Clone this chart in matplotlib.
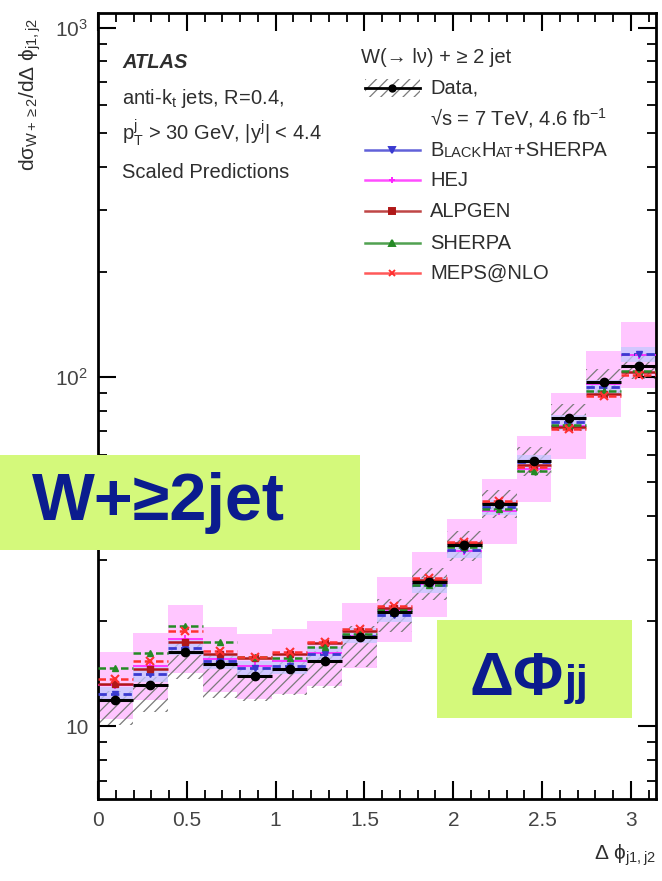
import numpy as np
import matplotlib
matplotlib.use('Agg')
import matplotlib.pyplot as plt
from matplotlib.patches import Rectangle
from matplotlib.ticker import MultipleLocator, FuncFormatter

plt.rcParams['font.family'] = ['Liberation Sans', 'DejaVu Sans']
plt.rcParams['mathtext.fontset'] = 'custom'
plt.rcParams['mathtext.rm'] = 'Liberation Sans'
plt.rcParams['mathtext.it'] = 'Liberation Sans:italic'
plt.rcParams['mathtext.bf'] = 'Liberation Sans:bold'
plt.rcParams['hatch.linewidth'] = 0.9

# delta phi between the two leading jets, 16 bins over [0, pi]
n_bins = 16
bin_edges = np.linspace(0, np.pi, n_bins + 1)

data_vals = [11.9, 13.1, 16.3, 15.05, 13.9, 14.6, 15.35, 18.0,
             21.2, 25.9, 33.0, 43.3, 57.4, 76.3, 96.8, 107.5]
data_unc_up = [0.06, 0.06, 0.06, 0.06, 0.06, 0.06, 0.07, 0.08,
               0.09, 0.10, 0.10, 0.10, 0.10, 0.10, 0.09, 0.09]
data_unc_dn = [0.15, 0.16, 0.16, 0.20, 0.15, 0.16, 0.16, 0.18,
               0.12, 0.11, 0.10, 0.09, 0.09, 0.08, 0.08, 0.08]

blackhat_vals = [12.35, 14.1, 16.8, 15.35, 14.65, 14.85, 16.1, 18.2,
                 20.9, 25.35, 31.9, 42.4, 57.1, 74.3, 93.6, 116.4]
blackhat_unc = [0.05, 0.05, 0.05, 0.05, 0.05, 0.05, 0.05, 0.05,
                0.05, 0.05, 0.05, 0.05, 0.05, 0.05, 0.05, 0.05]
hej_vals = [13.1, 14.85, 17.75, 15.55, 14.85, 15.35, 16.2, 18.2,
            21.6, 25.5, 31.7, 41.3, 54.5, 72.4, 95.5, 115.6]
hej_unc = [0.25, 0.25, 0.25, 0.24, 0.24, 0.24, 0.24, 0.24,
           0.24, 0.24, 0.24, 0.24, 0.24, 0.24, 0.24, 0.24]
alpgen_vals = [13.2, 14.6, 17.4, 16.1, 15.75, 16.1, 17.3, 18.7,
               21.8, 26.2, 33.45, 43.55, 56.0, 71.9, 89.4, 103.3]
sherpa_vals = [14.65, 16.2, 19.35, 17.4, 15.85, 15.65, 16.85, 18.35,
               21.5, 25.35, 32.6, 41.9, 53.8, 72.9, 91.2, 104.0]
meps_vals = [13.65, 15.35, 18.7, 16.4, 15.85, 16.3, 17.4, 18.95,
             22.05, 26.55, 33.7, 44.1, 55.2, 71.0, 88.2, 101.3]

c_blackhat = '#3a3ad0'
c_hej = '#ff22ff'
c_alpgen = '#b01818'
c_sherpa = '#258a25'
c_meps = '#ff3030'
c_text = '#2e2e2e'

fig = plt.figure(figsize=(6.62, 8.81), dpi=100)
ax = fig.add_axes([0.148, 0.0931, 0.843, 0.892])
ax.set_yscale('log')
ax.set_xlim(0, np.pi)
ax.set_ylim(6.2, 1100)

lo = bin_edges[:-1]
hi = bin_edges[1:]
width = np.diff(bin_edges)
centers = lo + width / 2

data = np.array(data_vals)
hej = np.array(hej_vals)
bh = np.array(blackhat_vals)

# HEJ uncertainty band
hej_lo = hej / (1 + np.array(hej_unc))
hej_hi = hej * (1 + np.array(hej_unc))
ax.bar(centers, hej_hi - hej_lo, bottom=hej_lo, width=width,
       color='#ffc6ff', linewidth=0, zorder=1)

# data uncertainty, hatched
d_lo = data * (1 - np.array(data_unc_dn))
d_hi = data * (1 + np.array(data_unc_up))
ax.bar(centers, d_hi - d_lo, bottom=d_lo, width=width, facecolor='none',
       edgecolor='#7a7a7a', hatch='///', linewidth=0, zorder=2)

# BlackHat+Sherpa band
bh_lo = bh * (1 - np.array(blackhat_unc))
bh_hi = bh * (1 + np.array(blackhat_unc))
ax.bar(centers, bh_hi - bh_lo, bottom=bh_lo, width=width,
       color='#c4c8ff', alpha=0.75, linewidth=0, zorder=2.5)

ax.hlines(hej_vals, lo, hi, colors=c_hej, linewidth=1.2, zorder=3)
ax.hlines(blackhat_vals, lo, hi, colors=c_blackhat, linewidth=2.0,
          linestyles=(0, (3, 1.5)), zorder=3)
ax.hlines(alpgen_vals, lo, hi, colors=c_alpgen, linewidth=1.8, zorder=3)
ax.hlines(sherpa_vals, lo, hi, colors=c_sherpa, linewidth=1.8,
          linestyles=(0, (3, 1.5)), zorder=3)
ax.hlines(meps_vals, lo, hi, colors=c_meps, linewidth=1.8,
          linestyles=(0, (3, 1.5)), zorder=3)

ax.plot(centers, hej_vals, '+', color=c_hej, ms=6, mew=1.3, zorder=4)
ax.plot(centers, blackhat_vals, 'v', color=c_blackhat, ms=5, zorder=4)
ax.plot(centers, alpgen_vals, 's', color=c_alpgen, ms=5, zorder=4)
ax.plot(centers, sherpa_vals, '^', color=c_sherpa, ms=5, zorder=4)
ax.plot(centers, meps_vals, 'x', color=c_meps, ms=6, mew=1.5, zorder=4)

ax.hlines(data_vals, lo, hi, colors='black', linewidth=2.2, zorder=5)
ax.plot(centers, data_vals, 'o', color='black', ms=6, zorder=6)

# axes styling
for s in ax.spines.values():
    s.set_linewidth(2)
ax.xaxis.set_major_locator(MultipleLocator(0.5))
ax.xaxis.set_minor_locator(MultipleLocator(0.1))
ax.xaxis.set_major_formatter(FuncFormatter(lambda v, p: f'{v:g}'))
ylabels = {10: '10', 100: r'$10^2$', 1000: r'$10^3$'}
ax.yaxis.set_major_formatter(
    FuncFormatter(lambda v, p: ylabels.get(int(round(v)), '')))
ax.tick_params(which='both', direction='in', top=True, right=True,
               labelsize=15, labelcolor='#444444')
ax.tick_params(which='major', length=13, width=1.5)
ax.tick_params(which='minor', length=6.5, width=1.3)
ax.tick_params(axis='x', pad=9)
ax.tick_params(axis='y', pad=7)

# axis titles
fig.text(30 / 662, 1 - 18 / 881,
         r'd$\mathregular{\sigma_{W+\geq 2}}$/d$\mathregular{\Delta\ \phi_{j1,j2}}$',
         rotation=90, ha='center', va='top', fontsize=15, color=c_text)
fig.text(656 / 662, 1 - 868 / 881, r'$\mathregular{\Delta\ \phi_{j1,j2}}$',
         ha='right', va='bottom', fontsize=15, color=c_text)

# left-hand annotations
tk = dict(transform=ax.transAxes, fontsize=14.5, color=c_text, va='center')
ax.text(0.043, 0.9377, 'ATLAS', fontweight='bold', fontstyle='italic', **tk)
ax.text(0.043, 0.8919, r'anti-k$_\mathregular{t}$ jets, R=0.4,', **tk)
ax.text(0.043, 0.8473,
        r'p$_\mathregular{T}^\mathregular{j}$ > 30 GeV, |y$^\mathregular{j}$| < 4.4',
        **tk)
ax.text(0.043, 0.7977, 'Scaled Predictions', **tk)

# legend, drawn by hand
lx0, lx1, lxc, ltx = 0.4785, 0.577, 0.5275, 0.595
ax.text(0.471, 0.944, 'W(→ lν) + ≥ 2 jet', **tk)
ax.add_patch(Rectangle((lx0, 0.9046 - 0.011), lx1 - lx0, 0.022,
                       transform=ax.transAxes, facecolor='none',
                       edgecolor='#7a7a7a', hatch='///', linewidth=0))
ax.plot([lx0, lx1], [0.9046, 0.9046], color='black', lw=2,
        transform=ax.transAxes)
ax.plot([lxc], [0.9046], 'o', color='black', ms=5, transform=ax.transAxes)
ax.text(ltx, 0.9046, 'Data,', **tk)
ax.text(ltx, 0.8664, r'√s = 7 TeV, 4.6 fb$^\mathregular{-1}$', **tk)

entries = [
    (0.8257, c_blackhat, 'v', None),
    (0.7875, c_hej, '+', 'HEJ'),
    (0.7480, c_alpgen, 's', 'ALPGEN'),
    (0.7074, c_sherpa, '^', 'SHERPA'),
    (0.6692, c_meps, 'x', 'MEPS@NLO'),
]
for y, col, mk, name in entries:
    ax.plot([lx0, lx1], [y, y], color=col, lw=1.8, alpha=0.8,
            transform=ax.transAxes)
    ax.plot([lxc], [y], mk, color=col, ms=5, mew=1.4,
            transform=ax.transAxes)
    if name:
        ax.text(ltx, y, name, **tk)

# small-caps "BlackHat+Sherpa"
pieces = [('B', 14.5), ('LACK', 10.5), ('H', 14.5), ('AT', 10.5),
          ('+SHERPA', 14.5)]
prev = ax.text(ltx, 0.8257, pieces[0][0], transform=ax.transAxes,
               fontsize=pieces[0][1], color=c_text, va='center')
fig.canvas.draw()
for txt, sz in pieces[1:]:
    prev = ax.annotate(txt, xy=(1, 0), xycoords=prev, ha='left',
                       va='bottom', fontsize=sz, color=c_text)

# highlighted captions
box_kw = dict(transform=fig.transFigure, facecolor='#d4f97b',
              edgecolor='none', zorder=10)
fig.add_artist(Rectangle((0, 1 - 550 / 881), 360 / 662, 95 / 881, **box_kw))
fig.text(32 / 662, 1 - 503 / 881, 'W+≥2jet', fontsize=48, fontweight='bold',
         color='#0b1c8e', ha='left', va='center', zorder=11)
fig.add_artist(Rectangle((437 / 662, 1 - 718 / 881), 195 / 662, 98 / 881,
                         **box_kw))
fig.text(564 / 662, 1 - 695 / 881, 'ΔΦ', fontsize=44, fontweight='bold',
         color='#0b1c8e', ha='right', va='baseline', zorder=11)
fig.text(565 / 662, 1 - 695 / 881, 'jj', fontsize=31, fontweight='bold',
         color='#0b1c8e', ha='left', va='baseline', zorder=11)

fig.savefig('out.png', dpi=100)
